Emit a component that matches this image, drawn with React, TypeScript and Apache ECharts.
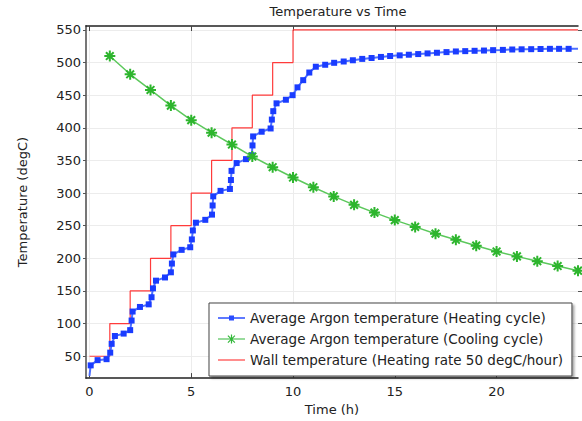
import React, { useEffect, useRef } from "react";
import * as echarts from "echarts";

// ---- data ----
const heatingTime = [
  0, 0.06, 0.4, 0.84, 1.02, 1.09, 1.25, 1.68, 2.0, 2.07, 2.12, 2.48, 2.91, 3.05, 3.12, 3.27,
  3.71, 4.0, 4.05, 4.12, 4.53, 4.95, 5.03, 5.08, 5.23, 5.69, 6.02, 6.05, 6.08, 6.44, 6.9,
  6.95, 6.98, 7.23, 7.69, 7.97, 8.01, 8.04, 8.46, 8.9, 8.96, 9.03, 9.19, 9.65, 9.98, 10.22,
  10.5, 10.8, 11.12, 11.58, 12.02, 12.49, 12.94, 13.4, 13.86, 14.32, 14.77, 15.24, 15.69,
  16.15, 16.61, 17.07, 17.54, 18.0, 18.46, 18.92, 19.38, 19.83, 20.31, 20.77, 21.23, 21.7,
  22.16, 22.62, 23.07, 23.54, 24,
];
const heatingTemp = [
  20, 36, 44, 45.5, 55.5, 69, 81, 84.7, 90, 104.7, 118.5, 125.5, 129.5, 140.4, 154, 165.8,
  170.7, 178.6, 192, 206, 213, 217, 229, 242.7, 254.6, 259, 267, 281, 295, 303.4, 306.3,
  320, 334, 346, 352, 358, 373, 386.8, 394, 399, 412.6, 425.5, 437.5, 443, 450, 462,
  473, 484.7, 493.6, 496.6, 499.6, 501.6, 503.5, 505.6, 507, 508.6, 510, 511, 512,
  513, 514, 515, 516, 517, 517.5, 518, 518.4, 519, 519.4, 520, 520.3, 520.5,
  520.8, 521, 521, 521, 521.2,
];
const coolingTime = [1, 2, 3, 4, 5, 6, 7, 8, 9, 10, 11, 12, 13, 14, 15, 16, 17, 18, 19, 20, 21, 22, 23, 24];
const coolingTemp = [
  510, 482, 458, 434, 411.7, 392.5, 374.4, 356, 339.6, 323.8, 308.9, 294.9, 282, 270.1,
  258.6, 248.2, 237.8, 228.4, 219.4, 210.5, 203, 195.6, 188.2, 181.1,
];
const wallStepHours = [0, 1, 2, 3, 4, 5, 6, 7, 8, 9, 10];
const wallLevels = [50, 100, 150, 200, 250, 300, 350, 400, 450, 500, 550];
const wallEndHour = 24;

const xTicks = [0, 5, 10, 15, 20];
const yTicks = [50, 100, 150, 200, 250, 300, 350, 400, 450, 500, 550];

const seriesNames = [
  "Average Argon temperature (Heating cycle)",
  "Average Argon temperature (Cooling cycle)",
  "Wall temperature (Heating rate 50 degC/hour)",
];
const titleText = "Temperature vs Time";
const xName = "Time (h)";
const yName = "Temperature (degC)";

const FONT = "DejaVu Sans";
const ASTERISK = "path://M5,0L5,10M0,5L10,5M1.5,1.5L8.5,8.5M1.5,8.5L8.5,1.5";

// legend icons (27 x 11 box): line + marker drawn as filled shapes
const ICON_SQUARE_LINE =
  "path://M0,5L27,5L27,6.5L0,6.5ZM11,3.2L16,3.2L16,8.2L11,8.2Z";
const ICON_STAR_LINE =
  "path://M0,5.1L27,5.1L27,6.3L0,6.3Z" +
  "M12.9,1.2L14.1,1.2L14.1,10.2L12.9,10.2Z" +
  "M9,5.1L18,5.1L18,6.3L9,6.3Z" +
  "M10.3,1.9L17.3,8.9L16.5,9.7L9.5,2.7Z" +
  "M16.5,1.9L17.3,2.7L10.3,9.7L9.5,8.9Z";
const ICON_LINE = "path://M0,5.1L27,5.1L27,6.3L0,6.3Z";

export default function App() {
  const ref = useRef<HTMLDivElement>(null);

  useEffect(() => {
    if (!ref.current) return;
    const chart = echarts.init(ref.current, undefined, { renderer: "svg" });

    const heatingData = heatingTime.map((t, i) => {
      const item: any = { value: [t, heatingTemp[i]] };
      if (i === 0 || i === heatingTime.length - 1) item.symbol = "none";
      return item;
    });
    const coolingData = coolingTime.map((t, i) => [t, coolingTemp[i]]);
    const wallData: number[][] = [];
    wallStepHours.forEach((h, i) => {
      const next = i + 1 < wallStepHours.length ? wallStepHours[i + 1] : wallEndHour;
      wallData.push([h, wallLevels[i]]);
      wallData.push([next, wallLevels[i]]);
    });

    const xMin = -0.17;
    const xMax = 24;
    const yMin = 16.5;
    const yMax = 556;

    chart.setOption({
      animation: false,
      backgroundColor: "#ffffff",
      textStyle: { fontFamily: FONT },
      title: {
        text: titleText,
        left: 333,
        top: 0,
        textAlign: "center",
        textStyle: { fontSize: 13, fontWeight: "normal", color: "#222", fontFamily: FONT },
      },
      grid: { left: 86, right: 4, top: 26, bottom: 33, containLabel: false },
      legend: {
        data: [
          { name: seriesNames[0], icon: ICON_SQUARE_LINE, itemStyle: { color: "#2a4dff", borderWidth: 0 } },
          { name: seriesNames[1], icon: ICON_STAR_LINE, itemStyle: { color: "#33b83a", borderWidth: 0 } },
          { name: seriesNames[2], icon: ICON_LINE, itemStyle: { color: "#ff4040", borderWidth: 0 } },
        ],
        orient: "vertical",
        left: 209,
        top: 303,
        itemWidth: 27,
        itemHeight: 11,
        itemGap: 7,
        padding: [8, 9, 9, 9],
        backgroundColor: "#ffffff",
        borderColor: "#444",
        borderWidth: 1,
        borderRadius: 0,
        shadowColor: "rgba(0,0,0,0.35)",
        shadowBlur: 2,
        shadowOffsetX: 2,
        shadowOffsetY: 2,
        textStyle: { fontSize: 13.5, color: "#222", fontFamily: FONT },
      },
      xAxis: [
        {
          type: "value",
          min: xMin,
          max: xMax,
          position: "bottom",
          name: xName,
          nameLocation: "middle",
          nameGap: 16,
          nameTextStyle: { fontSize: 13, color: "#222", fontFamily: FONT },
          axisLine: { show: true, onZero: false, lineStyle: { color: "#222", width: 1.5 } },
          axisTick: { show: true, inside: true, length: 5, customValues: xTicks, lineStyle: { color: "#444" } },
          axisLabel: { customValues: xTicks, fontSize: 13, color: "#222", margin: 7, fontFamily: FONT },
          splitLine: { show: true, lineStyle: { color: "#ececec", width: 1 } },
        },
        {
          type: "value",
          min: xMin,
          max: xMax,
          position: "top",
          axisLine: { show: true, onZero: false, lineStyle: { color: "#222", width: 1.5 } },
          axisTick: { show: true, inside: true, length: 5, customValues: xTicks, lineStyle: { color: "#444" } },
          axisLabel: { show: false },
          splitLine: { show: false },
        },
      ],
      yAxis: [
        {
          type: "value",
          min: yMin,
          max: yMax,
          position: "left",
          name: yName,
          nameLocation: "middle",
          nameGap: 57,
          nameTextStyle: { fontSize: 13, color: "#222", fontFamily: FONT },
          axisLine: { show: true, onZero: false, lineStyle: { color: "#777", width: 2 } },
          axisTick: { show: true, inside: false, length: 3, customValues: yTicks, lineStyle: { color: "#555" } },
          axisLabel: { customValues: yTicks, fontSize: 13, color: "#222", margin: 5, fontFamily: FONT },
          splitLine: { show: true, lineStyle: { color: "#ececec", width: 1 } },
        },
        {
          type: "value",
          min: yMin,
          max: yMax,
          position: "right",
          axisLine: { show: false, onZero: false },
          axisTick: { show: true, inside: false, length: 4, customValues: yTicks, lineStyle: { color: "#555" } },
          axisLabel: { show: false },
          splitLine: { show: false },
        },
      ],
      series: [
        {
          name: seriesNames[2],
          type: "line",
          data: wallData,
          symbol: "none",
          lineStyle: { color: "#ff3b3b", width: 1.2 },
          itemStyle: { color: "#ff3b3b" },
          z: 2,
        },
        {
          name: seriesNames[0],
          type: "line",
          data: heatingData,
          symbol: "rect",
          symbolSize: 6,
          lineStyle: { color: "#4d6fff", width: 2 },
          itemStyle: { color: "#1a3cff" },
          z: 3,
        },
        {
          name: seriesNames[1],
          type: "line",
          data: coolingData,
          symbol: ASTERISK,
          symbolSize: 11,
          lineStyle: { color: "#5cc85c", width: 1.5 },
          itemStyle: { color: "#2db52d", borderColor: "#2db52d", borderWidth: 2 },
          z: 4,
        },
      ],
    });

    return () => chart.dispose();
  }, []);

  return (
    <div
      ref={ref}
      style={{ position: "absolute", left: 0, top: 0, width: 582, height: 421 }}
    />
  );
}
